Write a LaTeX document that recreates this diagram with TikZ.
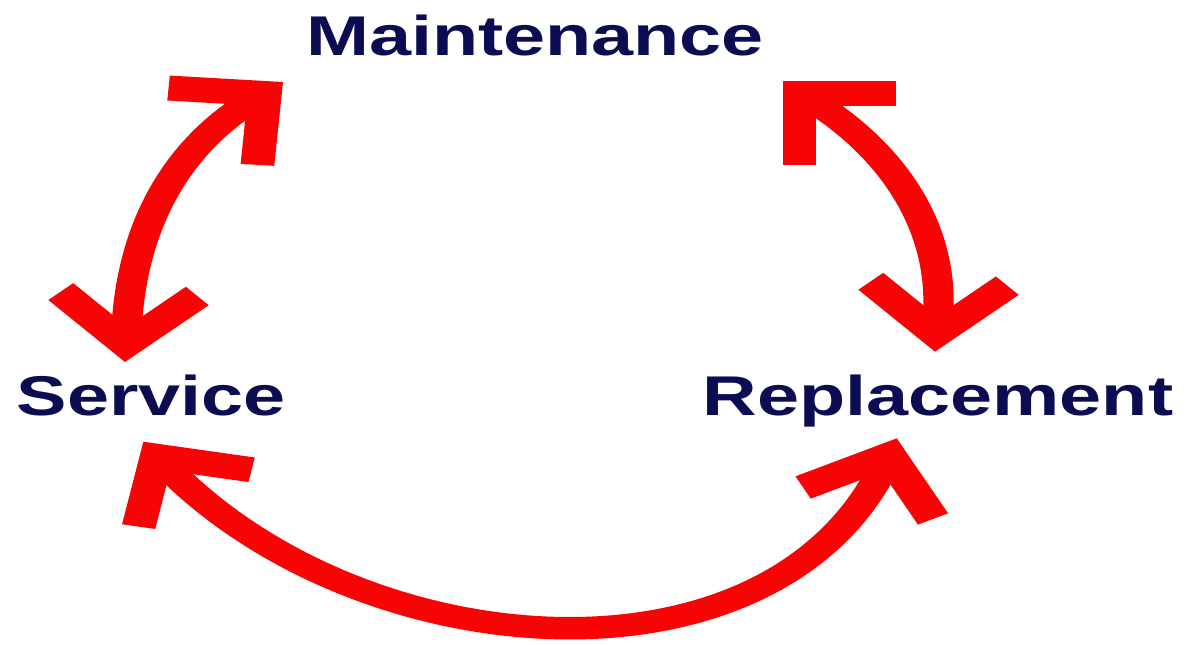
\documentclass[tikz,border=0pt]{standalone}
\usepackage{fontspec}
\setmainfont{Liberation Sans}
\definecolor{arrowred}{RGB}{248,4,4}
\definecolor{navy}{RGB}{12,12,82}
\begin{document}
\begin{tikzpicture}[
  x=0.37037pt, y=-0.5pt,
  lbl/.style={font=\fontsize{28}{32}\selectfont\bfseries, text=navy, anchor=base, inner sep=0pt},
  shaft/.style={draw=arrowred, line width=11.25pt, line cap=butt},
  chevline/.style={draw=arrowred, line width=12.5pt, line join=miter, line cap=butt, miter limit=10, x=0.5pt, y=0.5pt},
  chev/.pic={\draw[chevline] (-68.3,50.6) -- (-17.7,0) -- (-68.3,-50.6);}
]
\useasboundingbox (0pt,0pt) rectangle (594.5pt,-322pt);
\fill[white] (0pt,0pt) rectangle (594.5pt,-322pt);
\begin{scope}[transform canvas={xscale=1.35}]
  % labels
  \node[lbl] (maint) at (535,55) {Maintenance};
  \node[lbl] (serv) at (151.5,415) {Service};
  \node[lbl] (repl) at (938,415) {Replacement};
  % arrow ends (outer corners of chevrons)
  \coordinate (o1t) at (283,82);
  \coordinate (o1b) at (125,362);
  \coordinate (o2t) at (782.7,80.7);
  \coordinate (o2b) at (935,351.7);
  \coordinate (o3l) at (143.3,441.7);
  \coordinate (o3r) at (896.7,438.3);
  % shaft ends
  \coordinate (a1t) at (264.9,93.5);
  \coordinate (a1b) at (126,344.3);
  \coordinate (a2t) at (799.6,93.2);
  \coordinate (a2b) at (936,334);
  \coordinate (a3l) at (156.7,456.3);
  \coordinate (a3r) at (889.3,455.1);
  % shafts
  \draw[shaft] (a1t) .. controls (188,135) and (128,215) .. (a1b);
  \draw[shaft] (a2t) .. controls (890,145) and (952,230) .. (a2b);
  \draw[shaft] (a3l) .. controls (353,670) and (780,701) .. (a3r);
  % heads
  \pic[rotate=40.6] at (o1t) {chev};
  \pic[rotate=267.5] at (o1b) {chev};
  \pic[rotate=135] at (o2t) {chev};
  \pic[rotate=267.5] at (o2b) {chev};
  \pic[rotate=124.2] at (o3l) {chev};
  \pic[rotate=71.9] at (o3r) {chev};
\end{scope}
\end{tikzpicture}
\end{document}
